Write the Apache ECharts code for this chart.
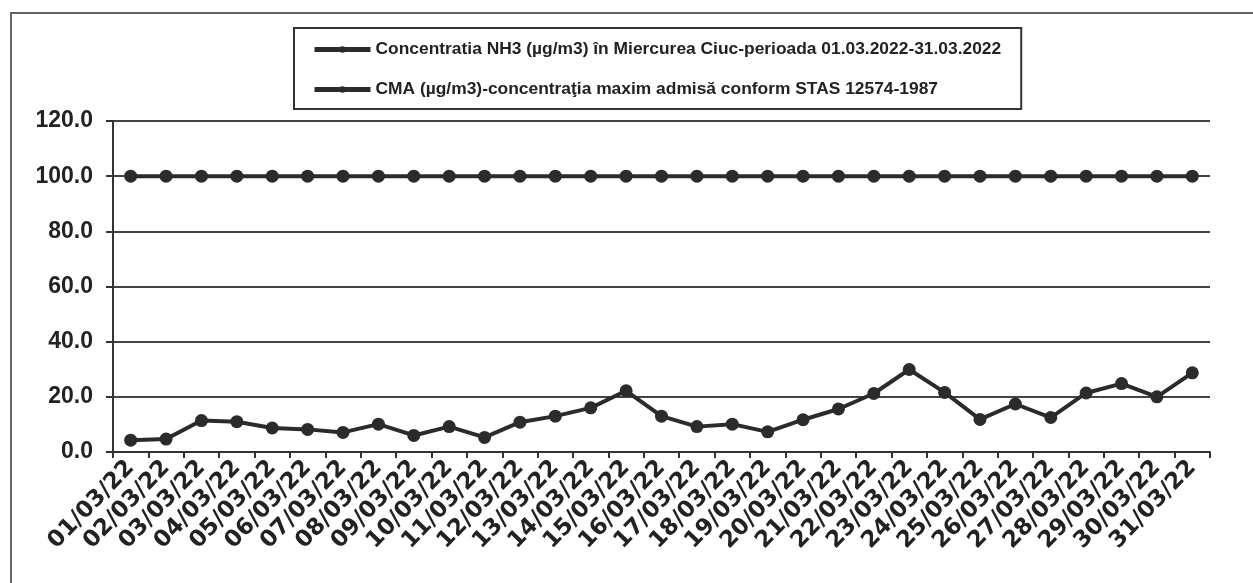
<!DOCTYPE html>
<html><head><meta charset="utf-8">
<script src="https://cdn.jsdelivr.net/npm/echarts@6/dist/echarts.min.js"></script>
<style>html,body{margin:0;padding:0;background:#fff}#c{width:1253px;height:583px}</style>
</head><body><div id="c"></div>
<script>
const categories = ["01/03/22","02/03/22","03/03/22","04/03/22","05/03/22","06/03/22","07/03/22","08/03/22","09/03/22","10/03/22","11/03/22","12/03/22","13/03/22","14/03/22","15/03/22","16/03/22","17/03/22","18/03/22","19/03/22","20/03/22","21/03/22","22/03/22","23/03/22","24/03/22","25/03/22","26/03/22","27/03/22","28/03/22","29/03/22","30/03/22","31/03/22"];
const nh3Values = [4.3,4.7,11.4,11.0,8.7,8.2,7.1,10.1,6.0,9.2,5.3,10.8,13.0,16.0,22.2,13.0,9.2,10.1,7.3,11.7,15.6,21.2,29.9,21.6,11.8,17.4,12.5,21.4,24.8,20.0,28.7];
const cmaValues = [100,100,100,100,100,100,100,100,100,100,100,100,100,100,100,100,100,100,100,100,100,100,100,100,100,100,100,100,100,100,100];
const seriesNames = ["Concentratia NH3 (µg/m3) în Miercurea Ciuc-perioada 01.03.2022-31.03.2022","CMA (µg/m3)-concentraţia maxim admisă conform STAS 12574-1987"];

const chart = echarts.init(document.getElementById('c'), null, {renderer:'canvas'});
const dark = '#2b2b2b';
const font = '"Liberation Sans", Arial, sans-serif';
chart.setOption({
  backgroundColor:'#fff',
  animation:false,
  graphic:[{type:'rect',shape:{x:11,y:13,width:1300,height:700},style:{fill:'none',stroke:'#666',lineWidth:2},silent:true}],
  legend:{
    orient:'vertical', left:294, top:28,
    padding:[13,20,11,18], itemGap:23,
    borderColor:'#333', borderWidth:2,
    itemWidth:56, itemHeight:8,
    lineStyle:{width:5},
    textStyle:{fontFamily:font,fontWeight:'bold',fontSize:17.4,color:'#222'},
    data:seriesNames
  },
  grid:{left:113,right:43,top:121,bottom:131},
  xAxis:{
    type:'category', data:categories, boundaryGap:true,
    axisLine:{lineStyle:{color:'#333',width:2}},
    axisTick:{show:true,alignWithLabel:false,length:6,lineStyle:{color:'#333',width:2}},
    axisLabel:{rotate:46,interval:0,fontFamily:'"DejaVu Sans", sans-serif',fontWeight:'bold',fontSize:23,color:'#222',margin:12},
    splitLine:{show:false}
  },
  yAxis:{
    type:'value', min:0, max:120, interval:20,
    axisLine:{show:true,lineStyle:{color:'#333',width:2}},
    axisTick:{show:true,length:7,lineStyle:{color:'#333',width:2}},
    axisLabel:{formatter:v=>v.toFixed(1),fontFamily:font,fontWeight:'bold',fontSize:23,color:'#222',margin:20},
    splitLine:{show:true,lineStyle:{color:'#444',width:2}}
  },
  series:[
    {name:seriesNames[0],type:'line',data:nh3Values,symbol:'circle',symbolSize:13,
     lineStyle:{color:dark,width:4},itemStyle:{color:dark}},
    {name:seriesNames[1],type:'line',data:cmaValues,symbol:'circle',symbolSize:13,
     lineStyle:{color:dark,width:4},itemStyle:{color:dark}}
  ]
});
</script></body></html>
